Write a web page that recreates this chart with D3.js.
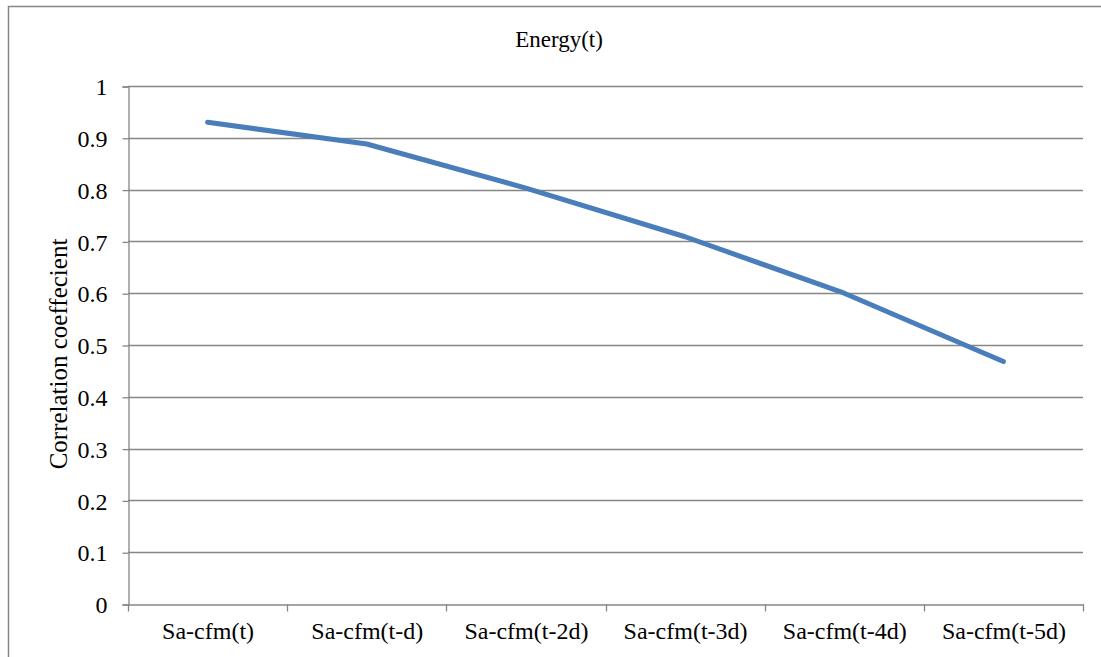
<!DOCTYPE html>
<html>
<head>
<meta charset="utf-8">
<script src="https://cdn.jsdelivr.net/npm/d3@7/dist/d3.min.js"></script>
<style>
  body { margin: 0; background: #fff; }
</style>
</head>
<body>
<div id="chart"></div>
<script>
'use strict'

// chart data
const categories = ['Sa-cfm(t)', 'Sa-cfm(t-d)', 'Sa-cfm(t-2d)', 'Sa-cfm(t-3d)', 'Sa-cfm(t-4d)', 'Sa-cfm(t-5d)']
const energy = [0.930, 0.888, 0.803, 0.709, 0.600, 0.468]
const yTicks = [0, 0.1, 0.2, 0.3, 0.4, 0.5, 0.6, 0.7, 0.8, 0.9, 1]

const width = 1101,
  height = 657
const plot = { left: 128, right: 1083, top: 86, bottom: 604 }
const serif = "'Liberation Serif', 'Times New Roman', Times, serif"

let svg = d3.select('#chart')
  .append('svg')
  .attr('width', width)
  .attr('height', height)

// outer frame (runs off the picture on right and bottom)
svg.append('rect')
  .attr('x', 8.5)
  .attr('y', 6.5)
  .attr('width', 1110)
  .attr('height', 700)
  .attr('fill', 'none')
  .attr('stroke', '#868686')
  .attr('stroke-width', 1.5)

const x = d3.scaleBand()
  .domain(categories)
  .range([plot.left, plot.right])

const y = d3.scaleLinear()
  .domain([0, 1])
  .range([plot.bottom, plot.top])

// gridlines
svg.append('g')
  .selectAll('line')
  .data(yTicks.filter(d => d > 0))
  .enter()
  .append('line')
  .attr('x1', plot.left)
  .attr('x2', plot.right)
  .attr('y1', d => Math.round(y(d)) + 0.5)
  .attr('y2', d => Math.round(y(d)) + 0.5)
  .attr('stroke', '#868686')
  .attr('stroke-width', 1.3)

// y axis
let yAxis = svg.append('g')
  .attr('transform', `translate(${plot.left + 0.5}, 0.5)`)
  .call(d3.axisLeft(y).tickValues(yTicks).tickSize(6).tickPadding(15).tickFormat(d3.format('')))
yAxis.attr('font-family', serif).attr('font-size', 24)
yAxis.selectAll('path, line').attr('stroke', '#868686').attr('stroke-width', 1.3)
yAxis.selectAll('text').attr('fill', '#000').attr('dy', '0.34em')

// x axis
let xAxis = svg.append('g')
  .attr('transform', `translate(0.5, ${plot.bottom + 0.5})`)
  .call(d3.axisBottom(x).tickSize(0).tickPadding(0))
xAxis.attr('font-family', serif).attr('font-size', 24)
xAxis.select('path').attr('stroke', '#868686').attr('stroke-width', 1.3)
xAxis.selectAll('text')
  .attr('fill', '#000')
  .attr('y', 34)
  .attr('dy', 0)

// category boundary ticks
const bounds = categories.map(c => x(c)).concat([plot.right])
xAxis.selectAll('.bound')
  .data(bounds)
  .enter()
  .append('line')
  .attr('class', 'bound')
  .attr('x1', d => Math.round(d))
  .attr('x2', d => Math.round(d))
  .attr('y1', 0)
  .attr('y2', 7)
  .attr('stroke', '#868686')
  .attr('stroke-width', 1.3)

// line
const line = d3.line()
  .x((d, i) => x(categories[i]) + x.bandwidth() / 2)
  .y(d => y(d))

svg.append('path')
  .datum(energy)
  .attr('d', line)
  .attr('fill', 'none')
  .attr('stroke', '#4a7ebb')
  .attr('stroke-width', 5)
  .attr('stroke-linecap', 'round')
  .attr('stroke-linejoin', 'round')

// title
svg.append('text')
  .attr('x', 559)
  .attr('y', 47)
  .attr('text-anchor', 'middle')
  .attr('font-family', serif)
  .attr('font-size', 23)
  .text('Energy(t)')

// y axis title
svg.append('text')
  .attr('transform', `translate(67, 354) rotate(-90)`)
  .attr('text-anchor', 'middle')
  .attr('font-family', serif)
  .attr('font-size', 25)
  .text('Correlation coeffecient')
</script>
</body>
</html>
